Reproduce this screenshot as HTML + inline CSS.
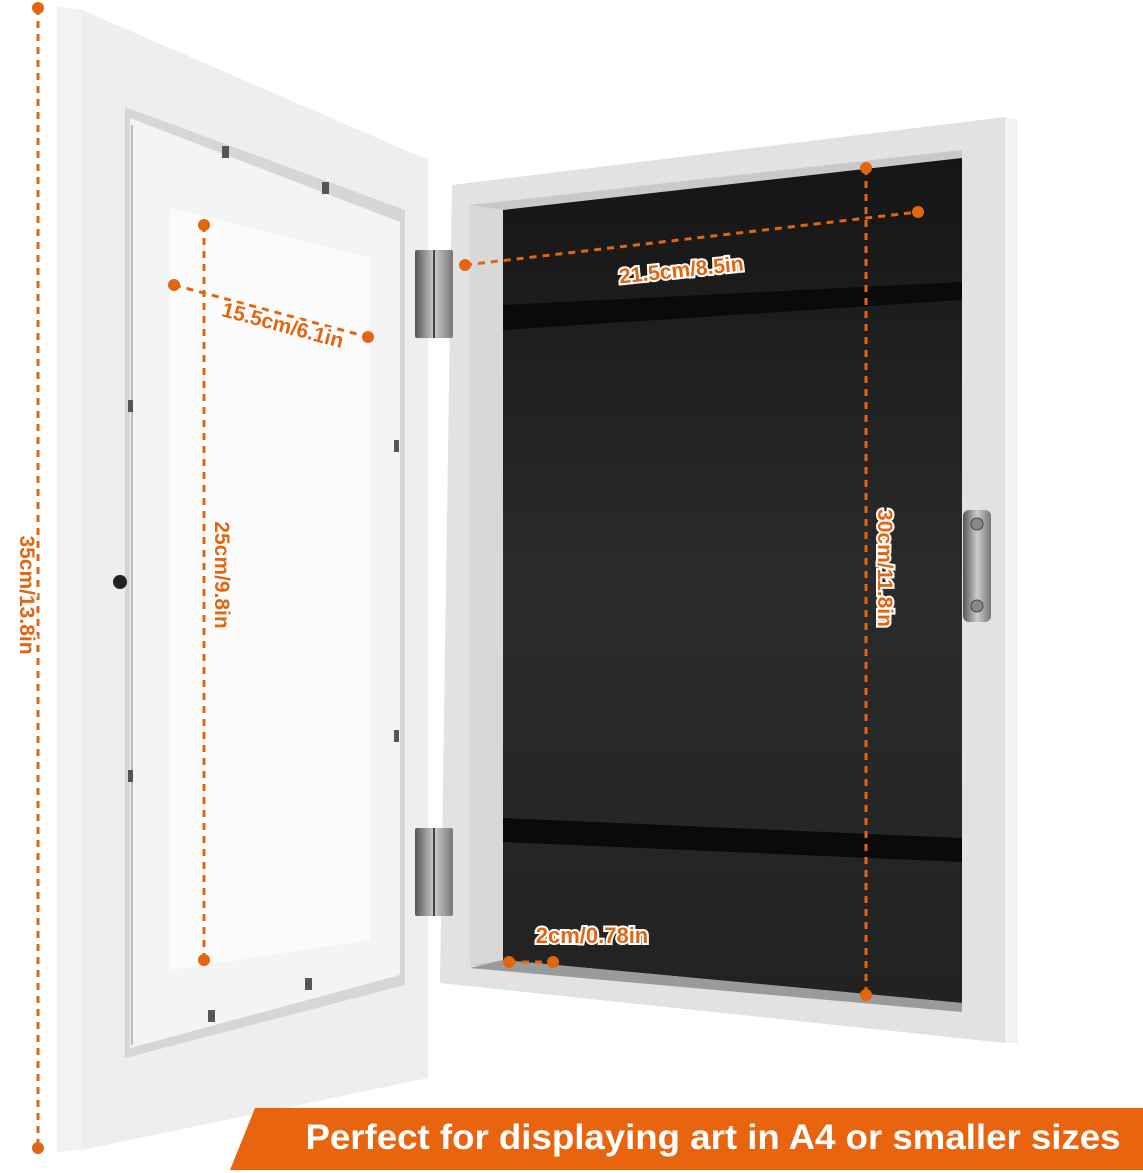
<!DOCTYPE html>
<html><head><meta charset="utf-8"><style>
html,body{margin:0;padding:0;background:#fff;width:1143px;height:1173px;overflow:hidden}
svg{display:block}
text{font-family:"Liberation Sans",Arial,sans-serif;font-weight:bold}
</style></head><body>
<svg width="1143" height="1173" viewBox="0 0 1143 1173" xmlns="http://www.w3.org/2000/svg">
<defs>
<linearGradient id="blk" x1="0" y1="0" x2="0" y2="1">
<stop offset="0" stop-color="#151515"/><stop offset="0.5" stop-color="#2b2b2b"/><stop offset="1" stop-color="#222"/></linearGradient>
<linearGradient id="hg" x1="0" y1="0" x2="1" y2="0">
<stop offset="0" stop-color="#555"/><stop offset="0.5" stop-color="#ccc"/><stop offset="1" stop-color="#777"/></linearGradient>
</defs>
<!-- LEFT FRAME -->
<polygon points="57,6 428,160 428,1078 57,1152" fill="#e4e4e4"/>
<polygon points="57,6 82,10 82,1150 57,1152" fill="#f2f2f2"/>
<polygon points="82,10 428,160 428,1078 82,1150" fill="#eeeeee"/>
<polygon points="125,107 405,210 405,985 125,1058" fill="#d6d6d6"/>
<polygon points="130,118 400,222 400,975 130,1048" fill="#f4f4f4"/>
<polygon points="170,208 370,258 370,940 170,970" fill="#fbfbfb"/>
<line x1="132" y1="125" x2="132" y2="1045" stroke="#bbb" stroke-width="2"/>
<g fill="#555"><rect x="222" y="146" width="7" height="12"/><rect x="322" y="182" width="7" height="12"/>
<rect x="128" y="400" width="5" height="12"/><rect x="128" y="770" width="5" height="12"/>
<rect x="394" y="440" width="5" height="12"/><rect x="394" y="730" width="5" height="12"/>
<rect x="305" y="978" width="7" height="12"/><rect x="208" y="1010" width="7" height="12"/></g>
<circle cx="120" cy="582" r="7" fill="#222"/>
<!-- RIGHT BOX -->
<polygon points="452,185 1005,117 1018,120 1018,1043 1005,1043 440,983" fill="#e2e2e2"/>
<polygon points="1005,117 1018,120 1018,1043 1005,1043" fill="#f3f3f3"/>
<polygon points="470,205 962,150 962,1003 470,965" fill="#c9c9c9"/>
<polygon points="503,210 962,158 962,1003 503,960" fill="url(#blk)"/>
<polygon points="470,205 503,210 503,960 470,965" fill="#d8d8d8"/>
<polygon points="503,305 962,282 962,300 503,330" fill="#0a0a0a"/>
<polygon points="503,818 962,838 962,862 503,842" fill="#0a0a0a"/>
<polygon points="503,960 962,1003 962,1012 470,968" fill="#9a9a9a"/>
<!-- latch -->
<rect x="963" y="510" width="28" height="112" rx="6" fill="url(#hg)"/>
<circle cx="977" cy="524" r="6" fill="#888" stroke="#444"/><circle cx="977" cy="606" r="6" fill="#888" stroke="#444"/>
<!-- hinges -->
<rect x="415" y="250" width="38" height="88" rx="2" fill="url(#hg)"/>
<rect x="415" y="828" width="38" height="88" rx="2" fill="url(#hg)"/>
<line x1="434" y1="250" x2="434" y2="338" stroke="#444" stroke-width="2"/>
<line x1="434" y1="828" x2="434" y2="916" stroke="#444" stroke-width="2"/>
<!-- DIMENSIONS -->
<g stroke="#e2660f" stroke-width="3" stroke-dasharray="7,6" fill="none">
<line x1="38" y1="8" x2="38" y2="1148"/>
<line x1="204" y1="225" x2="204" y2="960"/>
<line x1="174" y1="285" x2="368" y2="337"/>
<line x1="465" y1="265" x2="918" y2="212"/>
<line x1="866" y1="168" x2="866" y2="995"/>
<line x1="509" y1="962" x2="553" y2="962"/>
</g>
<g fill="#e2660f">
<circle cx="38" cy="8" r="6"/><circle cx="38" cy="1148" r="6"/>
<circle cx="204" cy="225" r="6"/><circle cx="204" cy="960" r="6"/>
<circle cx="174" cy="285" r="6"/><circle cx="368" cy="337" r="6"/>
<circle cx="465" cy="265" r="6"/><circle cx="918" cy="212" r="6"/>
<circle cx="866" cy="168" r="6"/><circle cx="866" cy="995" r="6"/>
<circle cx="509" cy="962" r="6"/><circle cx="553" cy="962" r="6"/>
</g>
<g fill="#e2660f" stroke="#fff" stroke-width="4" paint-order="stroke" font-size="21">
<text x="0" y="0" transform="translate(20,595) rotate(90)" text-anchor="middle">35cm/13.8in</text>
<text x="0" y="0" transform="translate(215,575) rotate(90)" text-anchor="middle">25cm/9.8in</text>
<text x="0" y="0" transform="translate(281,332) rotate(15)" text-anchor="middle">15.5cm/6.1in</text>
<text x="0" y="0" transform="translate(682,277) rotate(-6)" text-anchor="middle">21.5cm/8.5in</text>
<text x="0" y="0" transform="translate(878,568) rotate(90)" text-anchor="middle">30cm/11.8in</text>
<text x="592" y="943" text-anchor="middle" font-size="22">2cm/0.78in</text>
</g>
<!-- BANNER -->
<polygon points="255,1108 1143,1108 1143,1170 230,1170" fill="#e8640f"/>
<text x="713" y="1149" text-anchor="middle" fill="#fff" font-size="35" textLength="815" lengthAdjust="spacingAndGlyphs">Perfect for displaying art in A4 or smaller sizes</text>
</svg>
</body></html>
